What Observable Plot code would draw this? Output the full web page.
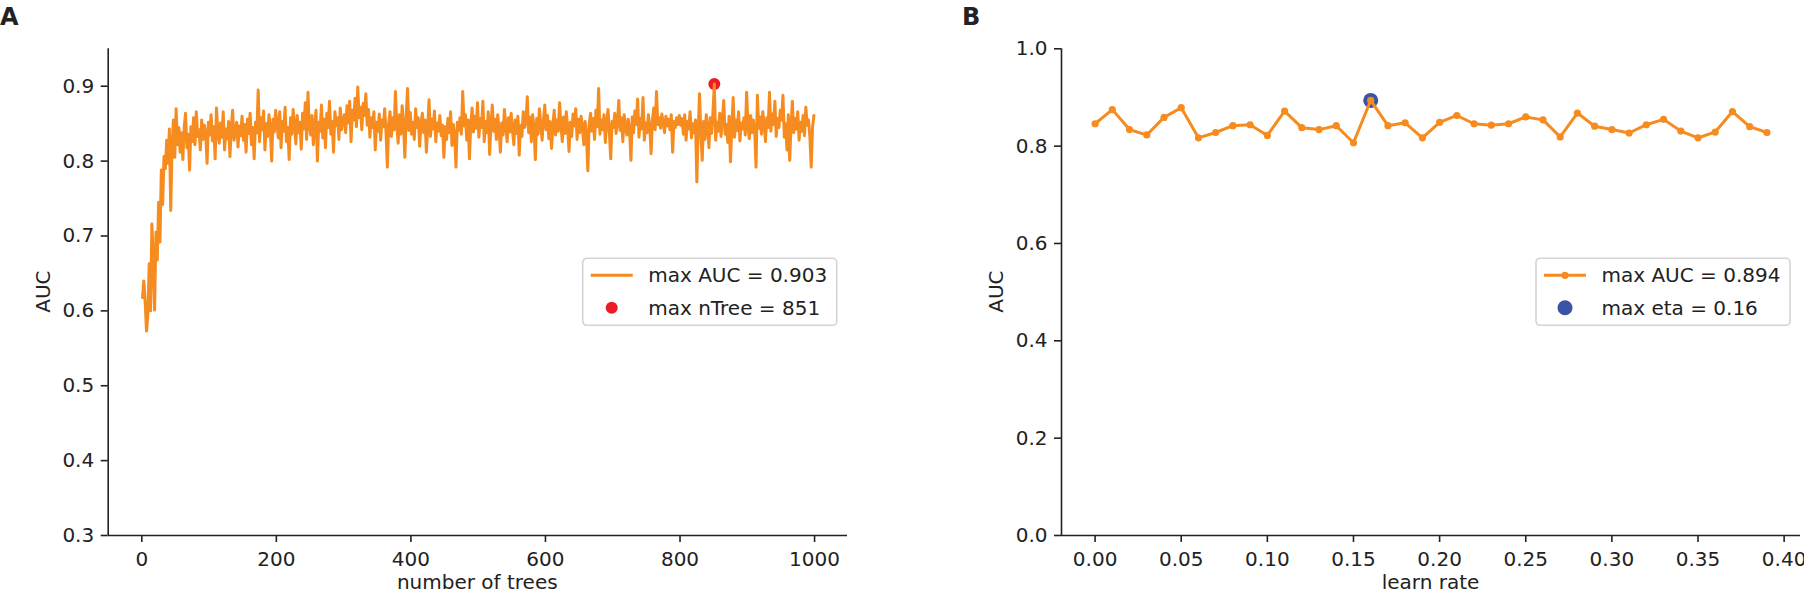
<!DOCTYPE html>
<html>
<head>
<meta charset="utf-8">
<script src="https://cdn.jsdelivr.net/npm/d3@7"></script>
<script src="https://cdn.jsdelivr.net/npm/@observablehq/plot@0.6"></script>
<style>
  html, body { margin: 0; padding: 0; background: #fff; }
  #fig { position: relative; width: 1804px; height: 594px; font-family: "DejaVu Sans", sans-serif; }
  #fig > .panel { position: absolute; top: 0; }
  #fig > svg.overlay { position: absolute; left: 0; top: 0; pointer-events: none; }
</style>
</head>
<body>
<div id="fig"></div>
<script>
// ---------- Panel A data: AUC vs number of trees (read every 2nd tree) ----------
const aucA = [
  0.618,0.640,0.612,0.573,0.595,0.663,0.600,0.716,0.668,0.601,0.705,0.668,0.745,0.692,0.788,0.742,0.806,0.790,0.828,0.797,0.843,0.734,0.820,0.855,0.805,
  0.870,0.822,0.845,0.812,0.838,0.802,0.845,0.864,0.818,0.836,0.788,0.846,0.826,0.858,0.822,0.866,0.833,0.842,0.815,0.855,0.829,0.848,0.838,0.797,0.852,
  0.835,0.862,0.827,0.846,0.803,0.871,0.838,0.824,0.851,0.832,0.866,0.815,0.843,0.830,0.853,0.806,0.845,0.868,0.828,0.839,0.852,0.819,0.847,0.834,0.860,
  0.828,0.849,0.812,0.856,0.837,0.864,0.822,0.845,0.803,0.852,0.838,0.895,0.826,0.858,0.842,0.867,0.815,0.850,0.833,0.862,0.845,0.800,0.856,0.839,0.868,
  0.848,0.831,0.866,0.818,0.853,0.840,0.872,0.826,0.845,0.802,0.858,0.836,0.869,0.847,0.823,0.861,0.838,0.852,0.816,0.864,0.843,0.878,0.829,0.892,0.846,
  0.835,0.861,0.822,0.849,0.868,0.800,0.852,0.840,0.875,0.831,0.856,0.818,0.864,0.845,0.880,0.836,0.853,0.812,0.866,0.848,0.858,0.829,0.871,0.842,0.855,
  0.862,0.838,0.874,0.851,0.880,0.826,0.868,0.855,0.884,0.846,0.899,0.858,0.872,0.842,0.877,0.861,0.890,0.848,0.869,0.832,0.858,0.845,0.866,0.815,0.852,
  0.840,0.863,0.828,0.855,0.846,0.870,0.838,0.792,0.851,0.866,0.833,0.858,0.842,0.893,0.848,0.824,0.862,0.836,0.874,0.850,0.805,0.859,0.897,0.841,0.865,
  0.836,0.852,0.829,0.870,0.845,0.858,0.820,0.849,0.864,0.838,0.855,0.812,0.847,0.882,0.833,0.856,0.843,0.867,0.826,0.851,0.840,0.861,0.834,0.848,0.805,
  0.846,0.829,0.857,0.838,0.866,0.821,0.849,0.835,0.792,0.852,0.841,0.858,0.836,0.893,0.847,0.862,0.828,0.855,0.803,0.850,0.871,0.839,0.860,0.844,0.878,
  0.832,0.857,0.845,0.880,0.826,0.853,0.838,0.866,0.809,0.848,0.875,0.840,0.856,0.829,0.862,0.843,0.812,0.851,0.835,0.869,0.847,0.826,0.858,0.839,0.864,
  0.841,0.822,0.855,0.837,0.860,0.808,0.848,0.833,0.866,0.845,0.852,0.886,0.838,0.859,0.826,0.862,0.844,0.802,0.857,0.836,0.870,0.849,0.828,0.854,0.875,
  0.842,0.861,0.830,0.853,0.817,0.846,0.868,0.835,0.855,0.840,0.878,0.848,0.826,0.859,0.837,0.866,0.844,0.813,0.852,0.833,0.863,0.847,0.870,0.829,0.856,
  0.838,0.860,0.845,0.822,0.853,0.834,0.787,0.849,0.864,0.840,0.857,0.829,0.868,0.846,0.897,0.836,0.855,0.842,0.862,0.825,0.850,0.869,0.838,0.803,0.853,
  0.845,0.864,0.837,0.852,0.881,0.841,0.858,0.826,0.862,0.847,0.835,0.856,0.843,0.801,0.859,0.838,0.867,0.849,0.883,0.832,0.857,0.843,0.885,0.828,0.851,
  0.838,0.862,0.846,0.810,0.855,0.871,0.842,0.893,0.849,0.858,0.844,0.863,0.851,0.838,0.860,0.847,0.856,0.842,0.862,0.812,0.853,0.845,0.858,0.849,0.861,
  0.848,0.857,0.836,0.862,0.828,0.853,0.843,0.866,0.831,0.850,0.838,0.855,0.772,0.841,0.890,0.836,0.801,0.853,0.829,0.862,0.845,0.818,0.858,0.837,0.866,
  0.903,0.828,0.852,0.840,0.864,0.833,0.857,0.881,0.836,0.849,0.825,0.860,0.799,0.846,0.885,0.832,0.855,0.841,0.866,0.827,0.851,0.843,0.858,0.835,0.892,
  0.847,0.830,0.861,0.838,0.855,0.842,0.792,0.888,0.844,0.859,0.836,0.866,0.850,0.826,0.858,0.845,0.892,0.840,0.863,0.849,0.880,0.833,0.857,0.845,0.868,
  0.855,0.888,0.832,0.850,0.815,0.862,0.801,0.846,0.880,0.838,0.857,0.843,0.866,0.828,0.852,0.840,0.861,0.834,0.872,0.848,0.855,0.833,0.792,0.845,0.861
];
const treeFirst = 1, treeStep = 2;          // values read at trees 1, 3, 5, ..., 999
const maxTree = [851];
const maxAucA = [0.903];
const xTicksA = [0, 200, 400, 600, 800, 1000];
const yTicksA = [0.3, 0.4, 0.5, 0.6, 0.7, 0.8, 0.9];

// ---------- Panel B data: AUC vs learn rate ----------
const learnRate = [0.00,0.01,0.02,0.03,0.04,0.05,0.06,0.07,0.08,0.09,
                   0.10,0.11,0.12,0.13,0.14,0.15,0.16,0.17,0.18,0.19,
                   0.20,0.21,0.22,0.23,0.24,0.25,0.26,0.27,0.28,0.29,
                   0.30,0.31,0.32,0.33,0.34,0.35,0.36,0.37,0.38,0.39];
const aucB = [0.846,0.875,0.834,0.823,0.859,0.879,0.817,0.828,0.842,0.844,
              0.822,0.872,0.838,0.834,0.842,0.807,0.894,0.842,0.848,0.817,
              0.849,0.863,0.846,0.843,0.846,0.860,0.854,0.819,0.868,0.841,
              0.834,0.827,0.844,0.855,0.831,0.817,0.829,0.871,0.840,0.828];
const maxEta = [0.16];
const maxAucB = [0.894];
const xTicksB = [0.00, 0.05, 0.10, 0.15, 0.20, 0.25, 0.30, 0.35, 0.40];
const yTicksB = [0.0, 0.2, 0.4, 0.6, 0.8, 1.0];

// ---------- derived tables ----------
const dataA = aucA.map((auc, i) => ({tree: treeFirst + treeStep * i, auc}));
const maxA = maxTree.map((t, i) => ({tree: t, auc: maxAucA[i]}));
const dataB = aucB.map((auc, i) => ({lr: learnRate[i], auc}));
const maxB = maxEta.map((e, i) => ({lr: e, auc: maxAucB[i]}));

const ORANGE = "#f68c1f", RED = "#ec1c24", BLUE = "#3b53a4", INK = "#222";
const FONT = "DejaVu Sans";

const common = {
  width: 902, height: 594, marginTop: 48.3, marginBottom: 59,
  style: {fontFamily: FONT, fontSize: "20px", color: INK, background: "transparent", overflow: "visible"}
};
const axOpts = {tickSize: 7, tickPadding: 7, fontSize: 20, strokeWidth: 1.6, stroke: INK, label: null};
const axXOpts = {...axOpts, tickPadding: 9};

// x-domains with matplotlib-like 5% margins
const xDomA = [-49.95, 1048.95];
const xDomB = [-0.0195, 0.4095];

const plotA = Plot.plot({
  ...common,
  marginLeft: 107.7, marginRight: 55,
  x: {domain: xDomA},
  y: {domain: [0.3, 0.95]},
  marks: [
    Plot.ruleY([0.3], {stroke: INK, strokeWidth: 1.6}),
    Plot.ruleX([xDomA[0]], {stroke: INK, strokeWidth: 1.6}),
    Plot.axisX({...axXOpts, ticks: xTicksA, tickFormat: d => String(d)}),
    Plot.axisY({...axOpts, ticks: yTicksA, tickFormat: d3.format(".1f")}),
    Plot.dot(maxA, {x: "tree", y: "auc", r: 6, fill: RED, stroke: "none"}),
    Plot.line(dataA, {x: "tree", y: "auc", stroke: ORANGE, strokeWidth: 3, strokeLinejoin: "round"})
  ]
});

const plotB = Plot.plot({
  ...common,
  marginLeft: 159, marginRight: 4,
  x: {domain: xDomB},
  y: {domain: [0, 1]},
  marks: [
    Plot.ruleY([0], {stroke: INK, strokeWidth: 1.6}),
    Plot.ruleX([xDomB[0]], {stroke: INK, strokeWidth: 1.6}),
    Plot.axisX({...axXOpts, ticks: xTicksB, tickFormat: d3.format(".2f")}),
    Plot.axisY({...axOpts, ticks: yTicksB, tickFormat: d3.format(".1f")}),
    Plot.dot(maxB, {x: "lr", y: "auc", r: 7.5, fill: BLUE, stroke: "none"}),
    Plot.line(dataB, {x: "lr", y: "auc", stroke: ORANGE, strokeWidth: 3}),
    Plot.dot(dataB, {x: "lr", y: "auc", r: 3.6, fill: ORANGE, stroke: "none"})
  ]
});

const fig = document.getElementById("fig");
plotA.classList.add("panel"); plotA.style.left = "0px";
plotB.classList.add("panel"); plotB.style.left = "902px";
fig.appendChild(plotA);
fig.appendChild(plotB);

// ---------- overlay: panel letters, axis titles, legends ----------
const ov = d3.select(fig).append("svg").attr("class", "overlay")
  .attr("width", 1804).attr("height", 594)
  .style("font-family", FONT).style("font-size", "20px").attr("fill", INK);

ov.append("text").attr("x", 0).attr("y", 25).attr("font-weight", "bold").attr("font-size", 24).text("A");
ov.append("text").attr("x", 962).attr("y", 25).attr("font-weight", "bold").attr("font-size", 24).text("B");

ov.append("text").attr("x", 477.3).attr("y", 589).attr("text-anchor", "middle").text("number of trees");
ov.append("text").attr("x", 1430.5).attr("y", 589).attr("text-anchor", "middle").text("learn rate");

[[50, 291.6], [1003.3, 291.6]].forEach(([x, y]) => {
  ov.append("text").attr("transform", `translate(${x},${y}) rotate(-90)`)
    .attr("text-anchor", "middle").text("AUC");
});

function legend(x0, rows) {
  const g = ov.append("g").attr("transform", `translate(${x0},258.3)`);
  g.append("rect").attr("width", 254).attr("height", 67).attr("rx", 4)
    .attr("fill", "white").attr("fill-opacity", 0.8).attr("stroke", "#d4d4d4").attr("stroke-width", 1.6);
  rows.forEach((r, i) => {
    const cy = i === 0 ? 17 : 49.5;
    if (r.kind === "line" || r.kind === "linedot") {
      g.append("line").attr("x1", 8).attr("x2", 50).attr("y1", cy).attr("y2", cy)
        .attr("stroke", ORANGE).attr("stroke-width", 3);
      if (r.kind === "linedot") g.append("circle").attr("cx", 29).attr("cy", cy).attr("r", 3.6).attr("fill", ORANGE);
    } else {
      g.append("circle").attr("cx", 29).attr("cy", cy).attr("r", r.r).attr("fill", r.color);
    }
    g.append("text").attr("x", 65.5).attr("y", cy + 7).text(r.label);
  });
}
legend(582.7, [
  {kind: "line", label: `max AUC = ${maxAucA[0].toFixed(3)}`},
  {kind: "dot", r: 6, color: RED, label: `max nTree = ${maxTree[0]}`}
]);
legend(1536, [
  {kind: "linedot", label: `max AUC = ${maxAucB[0].toFixed(3)}`},
  {kind: "dot", r: 7.5, color: BLUE, label: `max eta = ${maxEta[0]}`}
]);
</script>
</body>
</html>
